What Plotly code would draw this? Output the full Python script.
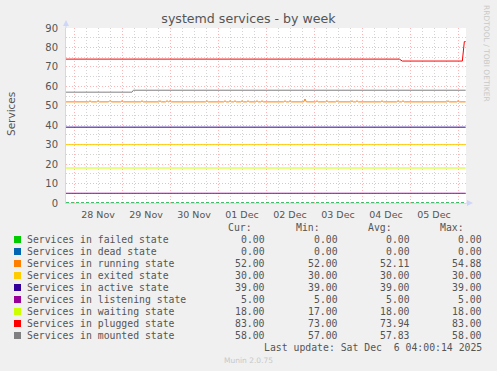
import plotly.graph_objects as go
from datetime import datetime, timedelta

# ---------------- data ----------------
x_start = "2025-11-27 20:00"
x_end = "2025-12-06 04:00"
last_sample = "2025-12-06 03:50"

series_names = [
    "Services in failed state", "Services in dead state", "Services in running state",
    "Services in exited state", "Services in active state", "Services in listening state",
    "Services in waiting state", "Services in plugged state", "Services in mounted state",
]
series_colors = ["#00CC00", "#0066B3", "#FF8000", "#FFCC00", "#330099",
                 "#990099", "#CCFF00", "#FF0000", "#808080"]

cur_vals = ["0.00", "0.00", "52.00", "30.00", "39.00", "5.00", "18.00", "83.00", "58.00"]
min_vals = ["0.00", "0.00", "52.00", "30.00", "39.00", "5.00", "17.00", "73.00", "57.00"]
avg_vals = ["0.00", "0.00", "52.11", "30.00", "39.00", "5.00", "18.00", "73.94", "57.83"]
max_vals = ["0.00", "0.00", "54.88", "30.00", "39.00", "5.00", "18.00", "83.00", "58.00"]

failed_value = 0
dead_value = 0
exited_value = 30
active_value = 39
listening_value = 5
waiting_value = 18

running_base = 52
running_bump_times = [
    "2025-11-28 08:00", "2025-11-28 12:00", "2025-11-28 18:00", "2025-11-29 00:00",
    "2025-11-29 10:00", "2025-11-29 19:00", "2025-11-29 22:30", "2025-11-30 00:00",
    "2025-11-30 18:30", "2025-12-01 03:30", "2025-12-01 06:00", "2025-12-01 08:30",
    "2025-12-01 12:00", "2025-12-01 15:00", "2025-12-01 19:30", "2025-12-01 22:00",
    "2025-12-02 09:30", "2025-12-02 12:00", "2025-12-02 19:30", "2025-12-03 01:30",
    "2025-12-03 06:30", "2025-12-03 11:30", "2025-12-03 19:00", "2025-12-03 21:30",
    "2025-12-04 10:00", "2025-12-04 18:00", "2025-12-04 20:30", "2025-12-05 19:00",
    "2025-12-06 00:00",
]
running_bump_values = [
    52.6, 52.6, 52.7, 52.6, 52.6, 52.6, 52.6, 52.6,
    52.6, 52.6, 52.6, 52.6, 52.6, 52.6, 52.6, 52.6,
    52.6, 52.6, 53.5, 52.6, 52.6, 52.6, 52.6, 52.6,
    52.6, 52.6, 52.6, 52.6, 52.6,
]

plugged_times = [x_start, "2025-12-04 18:40", "2025-12-04 20:10",
                 "2025-12-06 02:10", "2025-12-06 03:10", last_sample]
plugged_values = [74, 74, 73, 73, 83, 83]

mounted_times = [x_start, "2025-11-29 05:00", "2025-11-29 05:40", last_sample]
mounted_values = [57, 57, 58, 58]

# ---------------- build traces ----------------
fmt = "%Y-%m-%d %H:%M"
def dt(s):
    return datetime.strptime(s, fmt)

run_x = [dt(x_start)]
run_y = [running_base]
half = timedelta(minutes=40)
for t, v in zip(running_bump_times, running_bump_values):
    tt = dt(t)
    run_x += [tt - half, tt, tt + half]
    run_y += [running_base, v, running_base]
run_x.append(dt(last_sample))
run_y.append(running_base)

flat_x = [dt(x_start), dt(last_sample)]

fig = go.Figure()

def add(x, y, color, dash="solid"):
    fig.add_trace(go.Scatter(x=x, y=y, mode="lines", showlegend=False, hoverinfo="skip",
                             line=dict(color=color, width=1, dash=dash)))

add(flat_x, [dead_value] * 2, series_colors[1], dash="3px,2px")
add(flat_x, [failed_value] * 2, series_colors[0], dash="3px,2px")
add(run_x, run_y, series_colors[2])
add(flat_x, [exited_value] * 2, series_colors[3])
add(flat_x, [active_value] * 2, series_colors[4])
add(flat_x, [listening_value] * 2, series_colors[5])
add(flat_x, [waiting_value] * 2, series_colors[6])
add([dt(t) for t in plugged_times], plugged_values, series_colors[7])
add([dt(t) for t in mounted_times], mounted_values, series_colors[8])

# ---------------- layout ----------------
PL, PR, PT, PB = 66, 466, 28, 203
def px(xp):
    return (xp - PL) / (PR - PL)
def py(yp):
    return (PB - yp) / (PB - PT)

font_txt = "#555555"
major_grid = "rgba(255,120,120,0.55)"
minor_grid = "rgba(170,170,170,0.5)"
axis_col = "#CFD6F8"

fig.update_layout(
    width=497, height=371,
    margin=dict(l=PL, r=497 - PR, t=PT, b=371 - PB, autoexpand=False),
    paper_bgcolor="#F0F0F0", plot_bgcolor="#FFFFFF",
    font=dict(family="DejaVu Sans", color=font_txt),
    title=dict(text="systemd services - by week", x=0.5, xanchor="center",
               y=1 - 19 / 371, yanchor="middle", yref="container",
               font=dict(family="DejaVu Sans", size=12.6, color=font_txt)),
    xaxis=dict(
        type="date", range=[dt(x_start), dt(x_end)],
        tick0="2025-11-28", dtick=86400000, ticklabelmode="period",
        tickformat="%d %b", ticks="", ticklabelstandoff=3,
        showgrid=True, gridcolor=major_grid, griddash="1px,2px", gridwidth=1,
        minor=dict(dtick=21600000, showgrid=True, gridcolor=minor_grid,
                   griddash="1px,2px", gridwidth=1),
        showline=True, linecolor=axis_col, linewidth=1, zeroline=False,
        tickfont=dict(size=9.5, color=font_txt, family="DejaVu Sans"),
        layer="below traces", automargin=False,
    ),
    yaxis=dict(
        range=[0, 90], tick0=0, dtick=10, ticks="", ticklabelstandoff=5,
        showgrid=True, gridcolor=major_grid, griddash="1px,2px", gridwidth=1,
        minor=dict(dtick=5, showgrid=True, gridcolor=minor_grid,
                   griddash="1px,2px", gridwidth=1),
        showline=True, linecolor=axis_col, linewidth=1, zeroline=False,
        tickfont=dict(size=10, color=font_txt, family="DejaVu Sans"),
        layer="below traces", automargin=False,
    ),
)

shapes = []
# axis arrows
shapes.append(dict(type="path", xref="paper", yref="paper",
                   path=f"M {px(63)} {py(26)} L {px(69)} {py(26)} L {px(66)} {py(20)} Z",
                   fillcolor=axis_col, line=dict(width=0)))
shapes.append(dict(type="line", xref="paper", yref="paper", x0=px(66), x1=px(66),
                   y0=py(28), y1=py(25), line=dict(color=axis_col, width=1)))
shapes.append(dict(type="path", xref="paper", yref="paper",
                   path=f"M {px(467)} {py(200)} L {px(467)} {py(206)} L {px(473)} {py(203)} Z",
                   fillcolor=axis_col, line=dict(width=0)))
shapes.append(dict(type="line", xref="paper", yref="paper", x0=px(466), x1=px(468),
                   y0=py(203), y1=py(203), line=dict(color=axis_col, width=1)))

annotations = []
mono = dict(family="DejaVu Sans Mono", size=9.8, color=font_txt)

# y-axis title
annotations.append(dict(text="Services", xref="paper", yref="paper", x=px(11), y=py(114),
                        showarrow=False, textangle=-90, xanchor="center", yanchor="middle",
                        font=dict(family="DejaVu Sans", size=10.5, color=font_txt)))
# watermark
annotations.append(dict(text="RRDTOOL / TOBI OETIKER", xref="paper", yref="paper",
                        x=px(487), y=py(53), showarrow=False, textangle=90,
                        xanchor="center", yanchor="middle",
                        font=dict(family="DejaVu Sans", size=7.5, color="#C8C8C8")))

# column headers
for label, xr in zip(["Cur:", "Min:", "Avg:", "Max:"], [254, 322, 394, 466]):
    annotations.append(dict(text=label, xref="paper", yref="paper", x=px(xr), y=py(227.7),
                            showarrow=False, xanchor="right", yanchor="middle", font=mono))

row0, row_step = 239.5, 12
for i, name in enumerate(series_names):
    yc = row0 + i * row_step
    shapes.append(dict(type="rect", xref="paper", yref="paper",
                       x0=px(14), x1=px(21), y0=py(yc + 3.5), y1=py(yc - 3.5),
                       fillcolor=series_colors[i], line=dict(width=0)))
    annotations.append(dict(text=name, xref="paper", yref="paper", x=px(24.8), y=py(yc),
                            showarrow=False, xanchor="left", yanchor="middle", font=mono))
    for vals, xr in zip([cur_vals, min_vals, avg_vals, max_vals], [267, 339.5, 411.5, 483.5]):
        annotations.append(dict(text=vals[i], xref="paper", yref="paper", x=px(xr), y=py(yc),
                                showarrow=False, xanchor="right", yanchor="middle", font=mono))

annotations.append(dict(text="Last update: Sat Dec\u00a0\u00a06 04:00:14 2025", xref="paper",
                        yref="paper", x=px(483.5), y=py(347.7), showarrow=False,
                        xanchor="right", yanchor="middle", font=mono))
annotations.append(dict(text="Munin 2.0.75", xref="paper", yref="paper", x=px(248),
                        y=py(360), showarrow=False, xanchor="center", yanchor="middle",
                        font=dict(family="DejaVu Sans", size=7.5, color="#C8C8C8")))

fig.update_layout(shapes=shapes, annotations=annotations)
fig.write_html("out.html", config={"displayModeBar": False},
               post_script="document.body.style.margin='0';document.body.style.padding='0';")
